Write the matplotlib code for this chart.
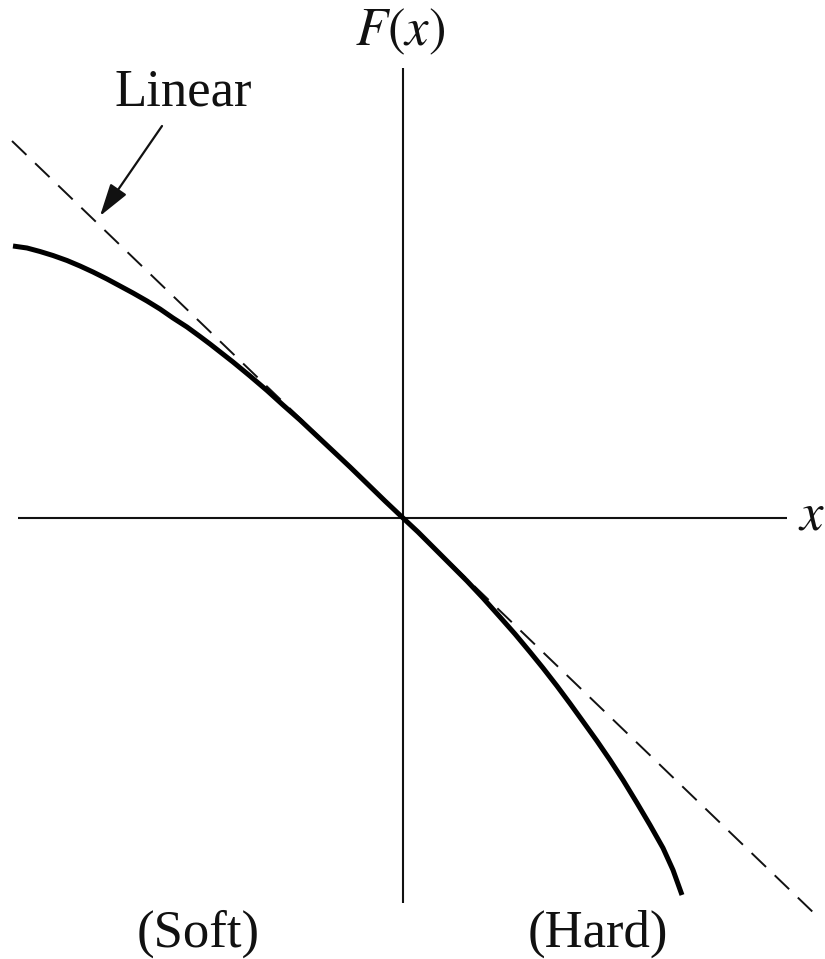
import matplotlib
matplotlib.use('Agg')
import matplotlib.pyplot as plt

# force curve (origin at axis crossing, units ~ pixels)
soft_x = [-390, -376, -363, -350, -336, -323, -310, -296, -283, -270, -256,
          -243, -230, -216, -203, -193, -170, -153, -136, -120, -103, -86,
          -70, -53, -36, -18, 0]
soft_y = [272, 270, 266.5, 262.5, 257.5, 252, 246, 239, 232, 225, 217,
          209, 200, 191, 181.5, 174, 156, 142, 127.5, 113, 98, 82,
          67, 51, 34.5, 17, 0]
hard_x = [0, 15, 30, 47, 64, 80, 97, 112, 127, 140, 154, 167, 180, 194, 207,
          220, 234, 247, 260, 270, 279]
hard_y = [0, -14, -29, -46, -63, -80, -99, -116, -134, -150, -168, -185.5,
          -203.5, -223, -242, -262, -285, -307, -330, -352, -377]

# linear (dashed) reference line end points
linear_x = [-391, 415]
linear_y = [377, -399]

# axis extents
xaxis_x = [-385, 384]
yaxis_y = [-385, 450]

plt.rcParams['mathtext.fontset'] = 'stix'
plt.rcParams['font.family'] = ['Liberation Serif', 'DejaVu Serif']

fig = plt.figure(figsize=(8.25, 9.59), dpi=100)
ax = fig.add_axes([0, 0, 1, 1])
ax.set_xlim(-403, 422)
ax.set_ylim(-441, 518)
ax.axis('off')

ink = '#111111'

# axes
ax.plot(xaxis_x, [0, 0], color=ink, lw=1.5, solid_capstyle='butt')
ax.plot([0, 0], yaxis_y, color=ink, lw=1.5, solid_capstyle='butt')

# linear line
ax.plot(linear_x, linear_y, color=ink, lw=1.4, dashes=(10.3, 6.2))

# nonlinear curve
ax.plot(soft_x + hard_x[1:], soft_y + hard_y[1:], color='black', lw=3.6,
        solid_capstyle='butt', solid_joinstyle='round')

# labels
fs = 38
ax.text(-3, 473, '$F(x)$', fontsize=fs, ha='center', va='baseline', color=ink)
ax.text(408, -12, '$x$', fontsize=fs, ha='center', va='baseline', color=ink)
ax.text(-220, 412, 'Linear', fontsize=fs, ha='center', va='baseline', color=ink)
ax.text(-205, -429, '(Soft)', fontsize=fs, ha='center', va='baseline', color=ink)
ax.text(195, -429, '(Hard)', fontsize=fs, ha='center', va='baseline', color=ink)

ax.annotate('', xy=(-303, 302), xytext=(-241, 392),
            arrowprops=dict(arrowstyle='-|>,head_length=2.0,head_width=0.6',
                            color=ink, lw=1.6, shrinkA=0, shrinkB=0))

fig.savefig('out.png', dpi=100, facecolor='white')
